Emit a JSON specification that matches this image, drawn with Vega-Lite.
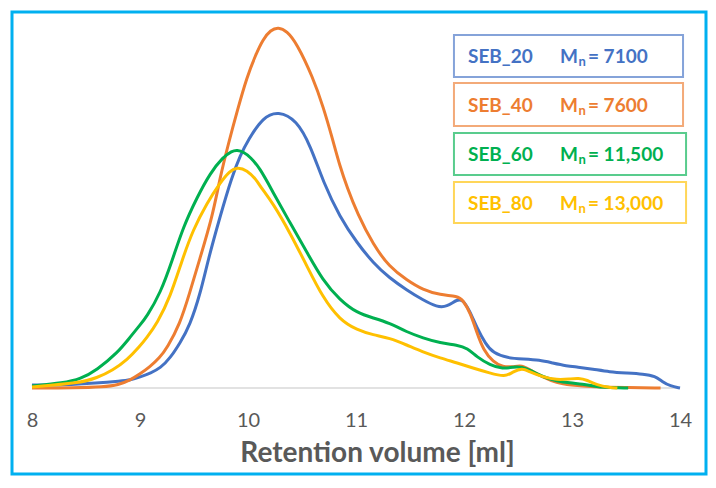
{
  "$schema": "https://vega.github.io/schema/vega-lite/v6.json",
  "width": 694,
  "height": 462,
  "autosize": {"type": "none"},
  "padding": {"left": 12, "top": 12, "right": 10, "bottom": 14},
  "background": "white",
  "config": {
    "view": {"stroke": "#00B0F0", "strokeWidth": 3}
  },
  "data": {"values": [
      {"s": "SEB_20", "x": 8.0, "y": 3}, {"s": "SEB_20", "x": 8.3, "y": 3}, {"s": "SEB_20", "x": 8.6, "y": 5}, {"s": "SEB_20", "x": 8.82, "y": 7}, {"s": "SEB_20", "x": 8.91, "y": 8}, {"s": "SEB_20", "x": 9.0, "y": 11}, {"s": "SEB_20", "x": 9.1, "y": 15}, {"s": "SEB_20", "x": 9.19, "y": 20}, {"s": "SEB_20", "x": 9.28, "y": 30}, {"s": "SEB_20", "x": 9.37, "y": 45}, {"s": "SEB_20", "x": 9.46, "y": 62}, {"s": "SEB_20", "x": 9.56, "y": 95}, {"s": "SEB_20", "x": 9.63, "y": 128}, {"s": "SEB_20", "x": 9.74, "y": 171}, {"s": "SEB_20", "x": 9.85, "y": 211}, {"s": "SEB_20", "x": 9.93, "y": 233}, {"s": "SEB_20", "x": 10.0, "y": 248}, {"s": "SEB_20", "x": 10.14, "y": 271}, {"s": "SEB_20", "x": 10.28, "y": 277}, {"s": "SEB_20", "x": 10.45, "y": 268}, {"s": "SEB_20", "x": 10.58, "y": 242}, {"s": "SEB_20", "x": 10.7, "y": 205}, {"s": "SEB_20", "x": 10.85, "y": 171}, {"s": "SEB_20", "x": 11.01, "y": 145}, {"s": "SEB_20", "x": 11.16, "y": 125}, {"s": "SEB_20", "x": 11.31, "y": 110}, {"s": "SEB_20", "x": 11.47, "y": 98}, {"s": "SEB_20", "x": 11.62, "y": 88}, {"s": "SEB_20", "x": 11.75, "y": 81}, {"s": "SEB_20", "x": 11.84, "y": 81}, {"s": "SEB_20", "x": 11.94, "y": 89}, {"s": "SEB_20", "x": 11.99, "y": 88}, {"s": "SEB_20", "x": 12.05, "y": 78}, {"s": "SEB_20", "x": 12.12, "y": 60}, {"s": "SEB_20", "x": 12.2, "y": 44}, {"s": "SEB_20", "x": 12.27, "y": 35}, {"s": "SEB_20", "x": 12.4, "y": 30}, {"s": "SEB_20", "x": 12.55, "y": 29}, {"s": "SEB_20", "x": 12.7, "y": 28}, {"s": "SEB_20", "x": 12.82, "y": 25}, {"s": "SEB_20", "x": 12.95, "y": 22}, {"s": "SEB_20", "x": 13.05, "y": 21}, {"s": "SEB_20", "x": 13.19, "y": 19}, {"s": "SEB_20", "x": 13.35, "y": 16}, {"s": "SEB_20", "x": 13.51, "y": 15}, {"s": "SEB_20", "x": 13.66, "y": 14}, {"s": "SEB_20", "x": 13.77, "y": 12}, {"s": "SEB_20", "x": 13.84, "y": 6}, {"s": "SEB_20", "x": 13.91, "y": 2}, {"s": "SEB_20", "x": 14.0, "y": 0},
      {"s": "SEB_40", "x": 8.0, "y": 0}, {"s": "SEB_40", "x": 8.4, "y": 0}, {"s": "SEB_40", "x": 8.66, "y": 1}, {"s": "SEB_40", "x": 8.8, "y": 3}, {"s": "SEB_40", "x": 8.91, "y": 8}, {"s": "SEB_40", "x": 9.0, "y": 14}, {"s": "SEB_40", "x": 9.09, "y": 21}, {"s": "SEB_40", "x": 9.18, "y": 30}, {"s": "SEB_40", "x": 9.25, "y": 40}, {"s": "SEB_40", "x": 9.37, "y": 64}, {"s": "SEB_40", "x": 9.46, "y": 95}, {"s": "SEB_40", "x": 9.55, "y": 128}, {"s": "SEB_40", "x": 9.67, "y": 171}, {"s": "SEB_40", "x": 9.74, "y": 210}, {"s": "SEB_40", "x": 9.82, "y": 245}, {"s": "SEB_40", "x": 9.9, "y": 277}, {"s": "SEB_40", "x": 9.99, "y": 311}, {"s": "SEB_40", "x": 10.07, "y": 333}, {"s": "SEB_40", "x": 10.14, "y": 349}, {"s": "SEB_40", "x": 10.21, "y": 358}, {"s": "SEB_40", "x": 10.28, "y": 361}, {"s": "SEB_40", "x": 10.36, "y": 357}, {"s": "SEB_40", "x": 10.45, "y": 345}, {"s": "SEB_40", "x": 10.6, "y": 311}, {"s": "SEB_40", "x": 10.7, "y": 280}, {"s": "SEB_40", "x": 10.78, "y": 250}, {"s": "SEB_40", "x": 10.85, "y": 222}, {"s": "SEB_40", "x": 10.92, "y": 200}, {"s": "SEB_40", "x": 11.01, "y": 175}, {"s": "SEB_40", "x": 11.16, "y": 143}, {"s": "SEB_40", "x": 11.31, "y": 121}, {"s": "SEB_40", "x": 11.47, "y": 108}, {"s": "SEB_40", "x": 11.62, "y": 98}, {"s": "SEB_40", "x": 11.78, "y": 93}, {"s": "SEB_40", "x": 11.94, "y": 92}, {"s": "SEB_40", "x": 11.99, "y": 88}, {"s": "SEB_40", "x": 12.06, "y": 75}, {"s": "SEB_40", "x": 12.12, "y": 55}, {"s": "SEB_40", "x": 12.18, "y": 38}, {"s": "SEB_40", "x": 12.27, "y": 26}, {"s": "SEB_40", "x": 12.36, "y": 21}, {"s": "SEB_40", "x": 12.45, "y": 21}, {"s": "SEB_40", "x": 12.54, "y": 23}, {"s": "SEB_40", "x": 12.61, "y": 18}, {"s": "SEB_40", "x": 12.73, "y": 11}, {"s": "SEB_40", "x": 12.86, "y": 5}, {"s": "SEB_40", "x": 12.98, "y": 3}, {"s": "SEB_40", "x": 13.2, "y": 1}, {"s": "SEB_40", "x": 13.5, "y": 0.5}, {"s": "SEB_40", "x": 13.82, "y": 0},
      {"s": "SEB_60", "x": 8.0, "y": 2}, {"s": "SEB_60", "x": 8.29, "y": 5}, {"s": "SEB_60", "x": 8.45, "y": 9}, {"s": "SEB_60", "x": 8.6, "y": 18}, {"s": "SEB_60", "x": 8.79, "y": 35}, {"s": "SEB_60", "x": 8.91, "y": 51}, {"s": "SEB_60", "x": 9.0, "y": 63}, {"s": "SEB_60", "x": 9.06, "y": 71}, {"s": "SEB_60", "x": 9.19, "y": 95}, {"s": "SEB_60", "x": 9.3, "y": 128}, {"s": "SEB_60", "x": 9.4, "y": 161}, {"s": "SEB_60", "x": 9.53, "y": 191}, {"s": "SEB_60", "x": 9.65, "y": 215}, {"s": "SEB_60", "x": 9.77, "y": 231}, {"s": "SEB_60", "x": 9.85, "y": 237}, {"s": "SEB_60", "x": 9.9, "y": 238}, {"s": "SEB_60", "x": 9.96, "y": 236}, {"s": "SEB_60", "x": 10.02, "y": 231}, {"s": "SEB_60", "x": 10.11, "y": 220}, {"s": "SEB_60", "x": 10.23, "y": 196}, {"s": "SEB_60", "x": 10.39, "y": 165}, {"s": "SEB_60", "x": 10.55, "y": 135}, {"s": "SEB_60", "x": 10.69, "y": 108}, {"s": "SEB_60", "x": 10.85, "y": 88}, {"s": "SEB_60", "x": 11.01, "y": 75}, {"s": "SEB_60", "x": 11.16, "y": 70}, {"s": "SEB_60", "x": 11.31, "y": 65}, {"s": "SEB_60", "x": 11.47, "y": 56}, {"s": "SEB_60", "x": 11.62, "y": 50}, {"s": "SEB_60", "x": 11.78, "y": 45}, {"s": "SEB_60", "x": 11.94, "y": 43}, {"s": "SEB_60", "x": 12.03, "y": 40}, {"s": "SEB_60", "x": 12.12, "y": 31}, {"s": "SEB_60", "x": 12.24, "y": 23}, {"s": "SEB_60", "x": 12.36, "y": 19}, {"s": "SEB_60", "x": 12.45, "y": 21}, {"s": "SEB_60", "x": 12.54, "y": 21}, {"s": "SEB_60", "x": 12.61, "y": 18}, {"s": "SEB_60", "x": 12.73, "y": 11}, {"s": "SEB_60", "x": 12.86, "y": 7}, {"s": "SEB_60", "x": 12.98, "y": 5}, {"s": "SEB_60", "x": 13.1, "y": 4}, {"s": "SEB_60", "x": 13.2, "y": 2}, {"s": "SEB_60", "x": 13.3, "y": 0.5}, {"s": "SEB_60", "x": 13.52, "y": 0},
      {"s": "SEB_80", "x": 8.0, "y": 1}, {"s": "SEB_80", "x": 8.44, "y": 5}, {"s": "SEB_80", "x": 8.6, "y": 10}, {"s": "SEB_80", "x": 8.75, "y": 18}, {"s": "SEB_80", "x": 8.88, "y": 28}, {"s": "SEB_80", "x": 9.0, "y": 42}, {"s": "SEB_80", "x": 9.06, "y": 50}, {"s": "SEB_80", "x": 9.16, "y": 65}, {"s": "SEB_80", "x": 9.28, "y": 91}, {"s": "SEB_80", "x": 9.39, "y": 128}, {"s": "SEB_80", "x": 9.49, "y": 158}, {"s": "SEB_80", "x": 9.62, "y": 185}, {"s": "SEB_80", "x": 9.74, "y": 205}, {"s": "SEB_80", "x": 9.83, "y": 217}, {"s": "SEB_80", "x": 9.9, "y": 221}, {"s": "SEB_80", "x": 9.99, "y": 218}, {"s": "SEB_80", "x": 10.08, "y": 208}, {"s": "SEB_80", "x": 10.11, "y": 202}, {"s": "SEB_80", "x": 10.23, "y": 185}, {"s": "SEB_80", "x": 10.39, "y": 155}, {"s": "SEB_80", "x": 10.55, "y": 121}, {"s": "SEB_80", "x": 10.69, "y": 91}, {"s": "SEB_80", "x": 10.85, "y": 68}, {"s": "SEB_80", "x": 11.01, "y": 58}, {"s": "SEB_80", "x": 11.16, "y": 53}, {"s": "SEB_80", "x": 11.31, "y": 50}, {"s": "SEB_80", "x": 11.47, "y": 43}, {"s": "SEB_80", "x": 11.62, "y": 36}, {"s": "SEB_80", "x": 11.78, "y": 30}, {"s": "SEB_80", "x": 11.94, "y": 25}, {"s": "SEB_80", "x": 12.08, "y": 20}, {"s": "SEB_80", "x": 12.24, "y": 15}, {"s": "SEB_80", "x": 12.38, "y": 11}, {"s": "SEB_80", "x": 12.45, "y": 16}, {"s": "SEB_80", "x": 12.54, "y": 20}, {"s": "SEB_80", "x": 12.61, "y": 16}, {"s": "SEB_80", "x": 12.73, "y": 11}, {"s": "SEB_80", "x": 12.86, "y": 8}, {"s": "SEB_80", "x": 12.98, "y": 9}, {"s": "SEB_80", "x": 13.06, "y": 10}, {"s": "SEB_80", "x": 13.14, "y": 8}, {"s": "SEB_80", "x": 13.23, "y": 3}, {"s": "SEB_80", "x": 13.35, "y": 0.5}, {"s": "SEB_80", "x": 13.42, "y": 0}
  ]},
  "encoding": {
    "x": {
      "field": "x", "type": "quantitative",
      "scale": {"domain": [7.8148, 14.2407], "nice": false, "zero": false},
      "title": "Retention volume [ml]",
      "axis": {
        "values": [8, 9, 10, 11, 12, 13, 14],
        "domain": false, "ticks": false, "grid": false,
        "offset": -86,
        "labelFont": "Lato", "labelFontSize": 20, "labelColor": "#595959",
        "labelPadding": 22,
        "titleFont": "Lato", "titleFontSize": 28, "titleFontWeight": "bold",
        "titleColor": "#595959", "titlePadding": 9,
        "titleX": 365, "titleAlign": "center"
      }
    },
    "y": {
      "field": "y", "type": "quantitative",
      "scale": {"domain": [-86, 376], "nice": false, "zero": false},
      "axis": null
    },
    "color": {
      "field": "s", "type": "nominal",
      "scale": {"domain": ["SEB_20", "SEB_40", "SEB_60", "SEB_80"], "range": ["#4472C4", "#ED7D31", "#00B050", "#FFC000"]},
      "legend": null
    }
  },
  "layer": [
    {
      "mark": {"type": "rule", "color": "#D9D9D9", "strokeWidth": 1.5},
      "encoding": {
        "x": {"aggregate": "min", "field": "x", "type": "quantitative"},
        "x2": {"aggregate": "max", "field": "x"},
        "y": {"aggregate": "min", "field": "y", "type": "quantitative"},
        "color": {"value": "#D9D9D9"}
      }
    },
    {
      "mark": {"type": "line", "strokeWidth": 3, "interpolate": "basis"}
    },
    {
      "transform": [{"aggregate": [{"op": "count", "as": "n"}], "groupby": ["s"]}],
      "layer": [
        {
          "transform": [{"filter": "datum.s === 'SEB_20'"}],
          "layer": [
            {"mark": {"type": "rect", "filled": false, "strokeWidth": 2, "strokeOpacity": 0.65},
             "encoding": {"x": {"value": {"expr": "scale('x', 11.907)"}}, "x2": {"value": {"expr": "scale('x', 14.028)"}}, "y": {"value": {"expr": "scale('y', 353)"}}, "y2": {"value": {"expr": "scale('y', 311)"}}}},
            {"mark": {"type": "text", "align": "left", "baseline": "middle", "font": "Lato", "fontSize": 19, "fontWeight": "bold", "dy": 1},
             "encoding": {"x": {"value": {"expr": "scale('x', 12.037)"}}, "y": {"value": {"expr": "scale('y', 332)"}}, "text": {"field": "s"}}},
            {"mark": {"type": "text", "align": "left", "baseline": "middle", "font": "Lato", "fontSize": 19, "fontWeight": "bold", "dy": 1, "text": "M"},
             "encoding": {"x": {"value": {"expr": "scale('x', 12.889)"}}, "y": {"value": {"expr": "scale('y', 332)"}}}},
            {"mark": {"type": "text", "align": "left", "baseline": "middle", "font": "Lato", "fontSize": 13, "fontWeight": "bold", "dy": 6, "text": "n"},
             "encoding": {"x": {"value": {"expr": "scale('x', 13.06)"}}, "y": {"value": {"expr": "scale('y', 332)"}}}},
            {"mark": {"type": "text", "align": "left", "baseline": "middle", "font": "Lato", "fontSize": 19, "fontWeight": "bold", "dy": 1, "text": "= 7100"},
             "encoding": {"x": {"value": {"expr": "scale('x', 13.148)"}}, "y": {"value": {"expr": "scale('y', 332)"}}}}
          ]
        },
        {
          "transform": [{"filter": "datum.s === 'SEB_40'"}],
          "layer": [
            {"mark": {"type": "rect", "filled": false, "strokeWidth": 2, "strokeOpacity": 0.65},
             "encoding": {"x": {"value": {"expr": "scale('x', 11.907)"}}, "x2": {"value": {"expr": "scale('x', 14.028)"}}, "y": {"value": {"expr": "scale('y', 305)"}}, "y2": {"value": {"expr": "scale('y', 262)"}}}},
            {"mark": {"type": "text", "align": "left", "baseline": "middle", "font": "Lato", "fontSize": 19, "fontWeight": "bold", "dy": 1},
             "encoding": {"x": {"value": {"expr": "scale('x', 12.037)"}}, "y": {"value": {"expr": "scale('y', 283.5)"}}, "text": {"field": "s"}}},
            {"mark": {"type": "text", "align": "left", "baseline": "middle", "font": "Lato", "fontSize": 19, "fontWeight": "bold", "dy": 1, "text": "M"},
             "encoding": {"x": {"value": {"expr": "scale('x', 12.889)"}}, "y": {"value": {"expr": "scale('y', 283.5)"}}}},
            {"mark": {"type": "text", "align": "left", "baseline": "middle", "font": "Lato", "fontSize": 13, "fontWeight": "bold", "dy": 6, "text": "n"},
             "encoding": {"x": {"value": {"expr": "scale('x', 13.06)"}}, "y": {"value": {"expr": "scale('y', 283.5)"}}}},
            {"mark": {"type": "text", "align": "left", "baseline": "middle", "font": "Lato", "fontSize": 19, "fontWeight": "bold", "dy": 1, "text": "= 7600"},
             "encoding": {"x": {"value": {"expr": "scale('x', 13.148)"}}, "y": {"value": {"expr": "scale('y', 283.5)"}}}}
          ]
        },
        {
          "transform": [{"filter": "datum.s === 'SEB_60'"}],
          "layer": [
            {"mark": {"type": "rect", "filled": false, "strokeWidth": 2, "strokeOpacity": 0.65},
             "encoding": {"x": {"value": {"expr": "scale('x', 11.907)"}}, "x2": {"value": {"expr": "scale('x', 14.056)"}}, "y": {"value": {"expr": "scale('y', 255)"}}, "y2": {"value": {"expr": "scale('y', 213)"}}}},
            {"mark": {"type": "text", "align": "left", "baseline": "middle", "font": "Lato", "fontSize": 19, "fontWeight": "bold", "dy": 1},
             "encoding": {"x": {"value": {"expr": "scale('x', 12.037)"}}, "y": {"value": {"expr": "scale('y', 234)"}}, "text": {"field": "s"}}},
            {"mark": {"type": "text", "align": "left", "baseline": "middle", "font": "Lato", "fontSize": 19, "fontWeight": "bold", "dy": 1, "text": "M"},
             "encoding": {"x": {"value": {"expr": "scale('x', 12.889)"}}, "y": {"value": {"expr": "scale('y', 234)"}}}},
            {"mark": {"type": "text", "align": "left", "baseline": "middle", "font": "Lato", "fontSize": 13, "fontWeight": "bold", "dy": 6, "text": "n"},
             "encoding": {"x": {"value": {"expr": "scale('x', 13.06)"}}, "y": {"value": {"expr": "scale('y', 234)"}}}},
            {"mark": {"type": "text", "align": "left", "baseline": "middle", "font": "Lato", "fontSize": 19, "fontWeight": "bold", "dy": 1, "text": "= 11,500"},
             "encoding": {"x": {"value": {"expr": "scale('x', 13.148)"}}, "y": {"value": {"expr": "scale('y', 234)"}}}}
          ]
        },
        {
          "transform": [{"filter": "datum.s === 'SEB_80'"}],
          "layer": [
            {"mark": {"type": "rect", "filled": false, "strokeWidth": 2, "strokeOpacity": 0.65},
             "encoding": {"x": {"value": {"expr": "scale('x', 11.907)"}}, "x2": {"value": {"expr": "scale('x', 14.056)"}}, "y": {"value": {"expr": "scale('y', 206)"}}, "y2": {"value": {"expr": "scale('y', 165)"}}}},
            {"mark": {"type": "text", "align": "left", "baseline": "middle", "font": "Lato", "fontSize": 19, "fontWeight": "bold", "dy": 1},
             "encoding": {"x": {"value": {"expr": "scale('x', 12.037)"}}, "y": {"value": {"expr": "scale('y', 185.5)"}}, "text": {"field": "s"}}},
            {"mark": {"type": "text", "align": "left", "baseline": "middle", "font": "Lato", "fontSize": 19, "fontWeight": "bold", "dy": 1, "text": "M"},
             "encoding": {"x": {"value": {"expr": "scale('x', 12.889)"}}, "y": {"value": {"expr": "scale('y', 185.5)"}}}},
            {"mark": {"type": "text", "align": "left", "baseline": "middle", "font": "Lato", "fontSize": 13, "fontWeight": "bold", "dy": 6, "text": "n"},
             "encoding": {"x": {"value": {"expr": "scale('x', 13.06)"}}, "y": {"value": {"expr": "scale('y', 185.5)"}}}},
            {"mark": {"type": "text", "align": "left", "baseline": "middle", "font": "Lato", "fontSize": 19, "fontWeight": "bold", "dy": 1, "text": "= 13,000"},
             "encoding": {"x": {"value": {"expr": "scale('x', 13.148)"}}, "y": {"value": {"expr": "scale('y', 185.5)"}}}}
          ]
        }
      ]
    }
  ]
}
